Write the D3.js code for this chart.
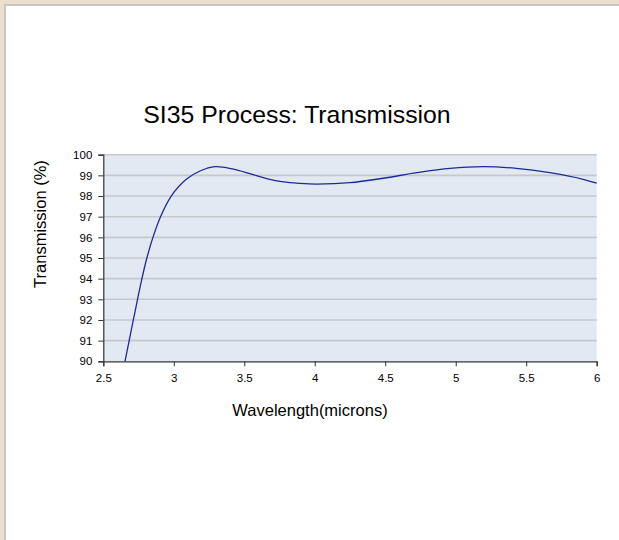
<!DOCTYPE html>
<html>
<head>
<meta charset="utf-8">
<script src="https://cdn.jsdelivr.net/npm/d3@7"></script>
<style>
html,body{margin:0;padding:0;background:#ebdfce;}
svg{display:block;}
</style>
</head>
<body>
<svg id="chart" width="619" height="540"></svg>
<script>
const title = "SI35 Process: Transmission";
const xLabel = "Wavelength(microns)";
const yLabel = "Transmission (%)";
const xTicks = [2.5, 3, 3.5, 4, 4.5, 5, 5.5, 6];
const yTicks = [90, 91, 92, 93, 94, 95, 96, 97, 98, 99, 100];
const wavelength = [2.654, 2.713, 2.774, 2.809, 2.852, 2.906, 2.982, 3.091, 3.186, 3.292, 3.422, 3.54, 3.659, 3.777, 3.895, 4.013, 4.25, 4.486, 4.723, 4.959, 5.195, 5.43, 5.668, 5.904, 6.0];
const transmission = [90, 92, 94, 95, 96, 97, 98, 98.82, 99.21, 99.42, 99.30, 99.08, 98.84, 98.68, 98.61, 98.58, 98.645, 98.86, 99.13, 99.34, 99.42, 99.34, 99.13, 98.81, 98.62];

(function () {
const svg = d3.select("#chart");
// page frame
svg.append("rect").attr("x", 0).attr("y", 0).attr("width", 619).attr("height", 540).attr("fill", "#ebdfce");
svg.append("rect").attr("x", 4).attr("y", 4).attr("width", 620).attr("height", 540).attr("fill", "#c8c8c8");
svg.append("rect").attr("x", 6).attr("y", 6).attr("width", 620).attr("height", 540).attr("fill", "#ffffff");

const pL = 103.3, pR = 596.7, pT = 154.7, pB = 361.3;
const x = d3.scaleLinear().domain([2.5, 6]).range([pL, pR]);
const y = d3.scaleLinear().domain([90, 100]).range([pB, pT]);

svg.append("rect").attr("x", pL).attr("y", pT).attr("width", pR - pL).attr("height", pB - pT).attr("fill", "#e2e9f3");

// gridlines
svg.append("g").selectAll("line").data(yTicks.filter(d => d > 90)).join("line")
  .attr("x1", pL).attr("x2", pR)
  .attr("y1", d => y(d)).attr("y2", d => y(d))
  .attr("stroke", "#c6c8cb").attr("stroke-width", 1.6);

const font = "'Liberation Sans', Arial, sans-serif";

const xAxis = svg.append("g").attr("transform", `translate(0,${pB})`)
  .call(d3.axisBottom(x).tickValues(xTicks).tickSize(5).tickPadding(8).tickFormat(d3.format("")));
const yAxis = svg.append("g").attr("transform", `translate(${pL},0)`)
  .call(d3.axisLeft(y).tickValues(yTicks).tickSize(5).tickPadding(6).tickFormat(d3.format("")));
[xAxis, yAxis].forEach(g => {
  g.select(".domain").attr("stroke", "#333").attr("stroke-width", 1.2);
  g.selectAll(".tick line").attr("stroke", "#333");
  g.selectAll(".tick text").attr("font-family", font).attr("font-size", 11.5).attr("fill", "#000");
});

const line = d3.line().x((d, i) => x(wavelength[i])).y(d => y(d)).curve(d3.curveCatmullRom.alpha(0.5));
svg.append("path").attr("d", line(transmission)).attr("fill", "none").attr("stroke", "#1c2a98").attr("stroke-width", 1.3);

svg.append("text").attr("x", 297).attr("y", 123).attr("text-anchor", "middle")
  .attr("font-family", font).attr("font-size", 24.8).attr("fill", "#000").text(title);
svg.append("text").attr("x", 310).attr("y", 416).attr("text-anchor", "middle")
  .attr("font-family", font).attr("font-size", 16.5).attr("fill", "#000").text(xLabel);
svg.append("text").attr("transform", "translate(46,224) rotate(-90)").attr("text-anchor", "middle")
  .attr("font-family", font).attr("font-size", 16.5).attr("fill", "#000").text(yLabel);
})();
</script>
</body>
</html>
